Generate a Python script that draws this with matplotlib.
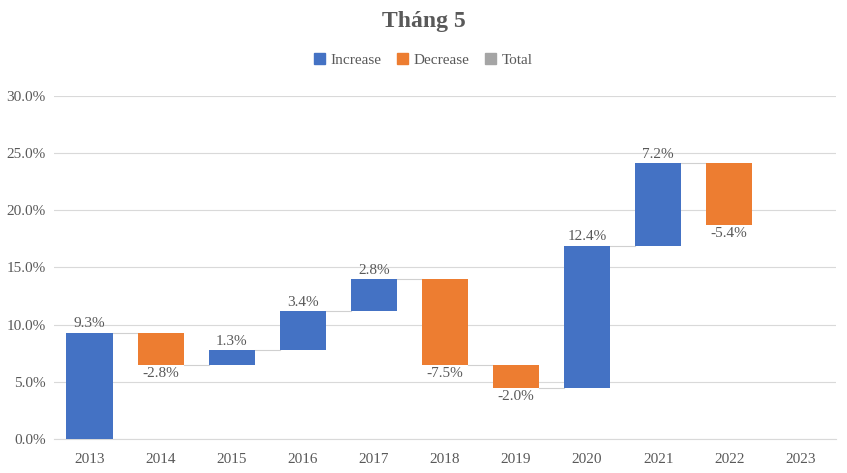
import matplotlib.pyplot as plt
import numpy as np
from matplotlib.patches import Patch

plt.rcParams['font.family'] = ['Liberation Serif', 'DejaVu Serif']

years = ['2013', '2014', '2015', '2016', '2017', '2018', '2019', '2020', '2021', '2022', '2023']
changes = [9.3, -2.8, 1.3, 3.4, 2.8, -7.5, -2.0, 12.4, 7.2, -5.4, None]

blue = '#4472C4'
orange = '#ED7D31'
gray = '#A5A5A5'
txt = '#595959'

fig = plt.figure(figsize=(8.47, 4.73), dpi=100)
ax = fig.add_axes([0.0638, 0.0719, 0.923, 0.7252])

x = np.arange(len(years))
w = 0.65
level = 0.0
ends = []
for i, v in enumerate(changes):
    if v is None:
        continue
    start = level
    level = start + v
    ends.append((i, level))
    color = blue if v >= 0 else orange
    ax.bar(i, v, w, bottom=start, color=color, zorder=3)
    label = '%.1f%%' % v
    if v >= 0:
        ax.text(i, level + 0.2, label, ha='center', va='bottom', fontsize=11, color=txt, zorder=4)
    else:
        ax.text(i, level - 0.2, label, ha='center', va='top', fontsize=11, color=txt, zorder=4)

# connector lines between bars
for (i, lv) in ends[:-1]:
    ax.plot([i + w / 2, i + 1 - w / 2], [lv, lv], color='#D0D0D0', lw=0.8, zorder=2)

ax.set_xlim(-0.5, len(years) - 0.5)
ax.set_ylim(0, 30)
ax.set_yticks(np.arange(0, 31, 5))
ax.set_yticklabels(['%.1f%%' % t for t in np.arange(0, 31, 5)])
ax.set_xticks(x)
ax.set_xticklabels(years)
ax.tick_params(length=0, labelsize=11, colors=txt)
ax.tick_params(axis='x', pad=10)
ax.tick_params(axis='y', pad=6)
ax.grid(axis='y', color='#D9D9D9', lw=0.8, zorder=0)
for s in ['top', 'right', 'left']:
    ax.spines[s].set_visible(False)
ax.spines['bottom'].set_color('#D9D9D9')

fig.text(0.5, 0.955, 'Tháng 5', ha='center', va='center', fontsize=17, fontweight='bold', color=txt)
handles = [Patch(color=blue, label='Increase'), Patch(color=orange, label='Decrease'), Patch(color=gray, label='Total')]
fig.legend(handles=handles, loc='center', bbox_to_anchor=(0.5, 0.873), ncol=3, frameon=False,
           fontsize=11, labelcolor=txt, handlelength=0.7, handleheight=0.7, handletextpad=0.4, columnspacing=1.0)

plt.savefig('out.png', dpi=100)
